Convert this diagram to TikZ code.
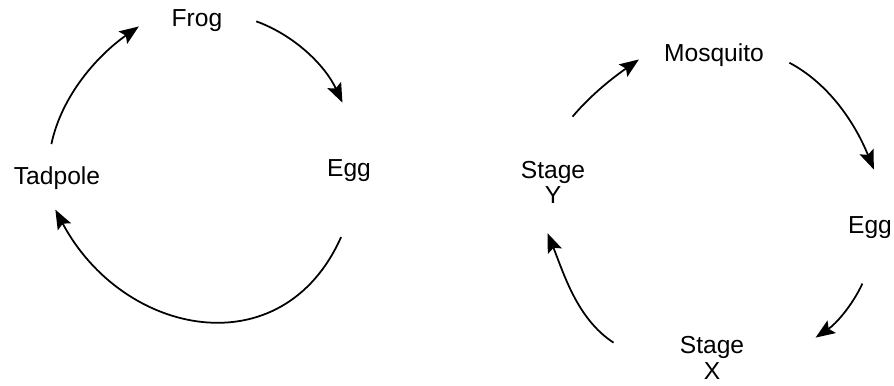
\documentclass[tikz,border=0pt]{standalone}
\usepackage{fontspec}
\setmainfont{Liberation Sans}
\usepackage{tikz}
\usetikzlibrary{arrows.meta}

\begin{document}
\begin{tikzpicture}[
	x=0.02cm, y=-0.02cm,
	stage/.style={align=center, inner sep=2pt, font=\fontsize{14pt}{14.5pt}\selectfont},
	arrow/.style={-{Stealth[length=11pt, width=8.5pt, inset=2pt]}, line width=1pt}
]
\useasboundingbox (0,0) rectangle (894,386);

% frog cycle
\node[stage] (frog) at (197,21) {Frog};
\node[stage] (egg) at (349,171) {Egg};
\node[stage] (tadpole) at (57,178) {Tadpole};

\draw[arrow, shorten <=0.38cm, shorten >=0.71cm] (tadpole.122) to[out=78, in=215, out distance=1.38cm, in distance=1.71cm] (frog.north west);
\draw[arrow, shorten <=0.64cm, shorten >=1.18cm] (frog.20) to[out=-20, in=115, out distance=1.46cm, in distance=2.0cm] (egg.39);
\draw[arrow, shorten <=1.12cm, shorten >=0.37cm] (egg.-45) to[out=-114, in=-62, out distance=4.0cm, in distance=3.25cm] (tadpole.-124);

% mosquito cycle
\node[stage] (mosquito) at (714,55) {Mosquito};
\node[stage] (eggR) at (870,227.5) {Egg};
\node[stage] (stageX) at (712,358) {Stage\\X};
\node[stage] (stageY) at (553,182.5) {Stage\\Y};

\draw[arrow, shorten <=1.06cm, shorten >=0.52cm] (stageY.120) to[out=50, in=215, out distance=1.66cm, in distance=1.12cm] (mosquito.169);
\draw[arrow, shorten <=0.49cm, shorten >=0.93cm] (mosquito.4) to[out=-28, in=112, out distance=1.43cm, in distance=1.87cm] (eggR.35);
\draw[arrow, shorten <=0.91cm, shorten >=1.63cm] (eggR.-52) to[out=-115, in=34, out distance=1.40cm, in distance=2.12cm] (stageX.south east);
\draw[arrow, shorten <=1.49cm, shorten >=0.55cm] (stageX.south west) to[out=147, in=-68, out distance=2.36cm, in distance=1.42cm] (stageY.-122);
\end{tikzpicture}
\end{document}
